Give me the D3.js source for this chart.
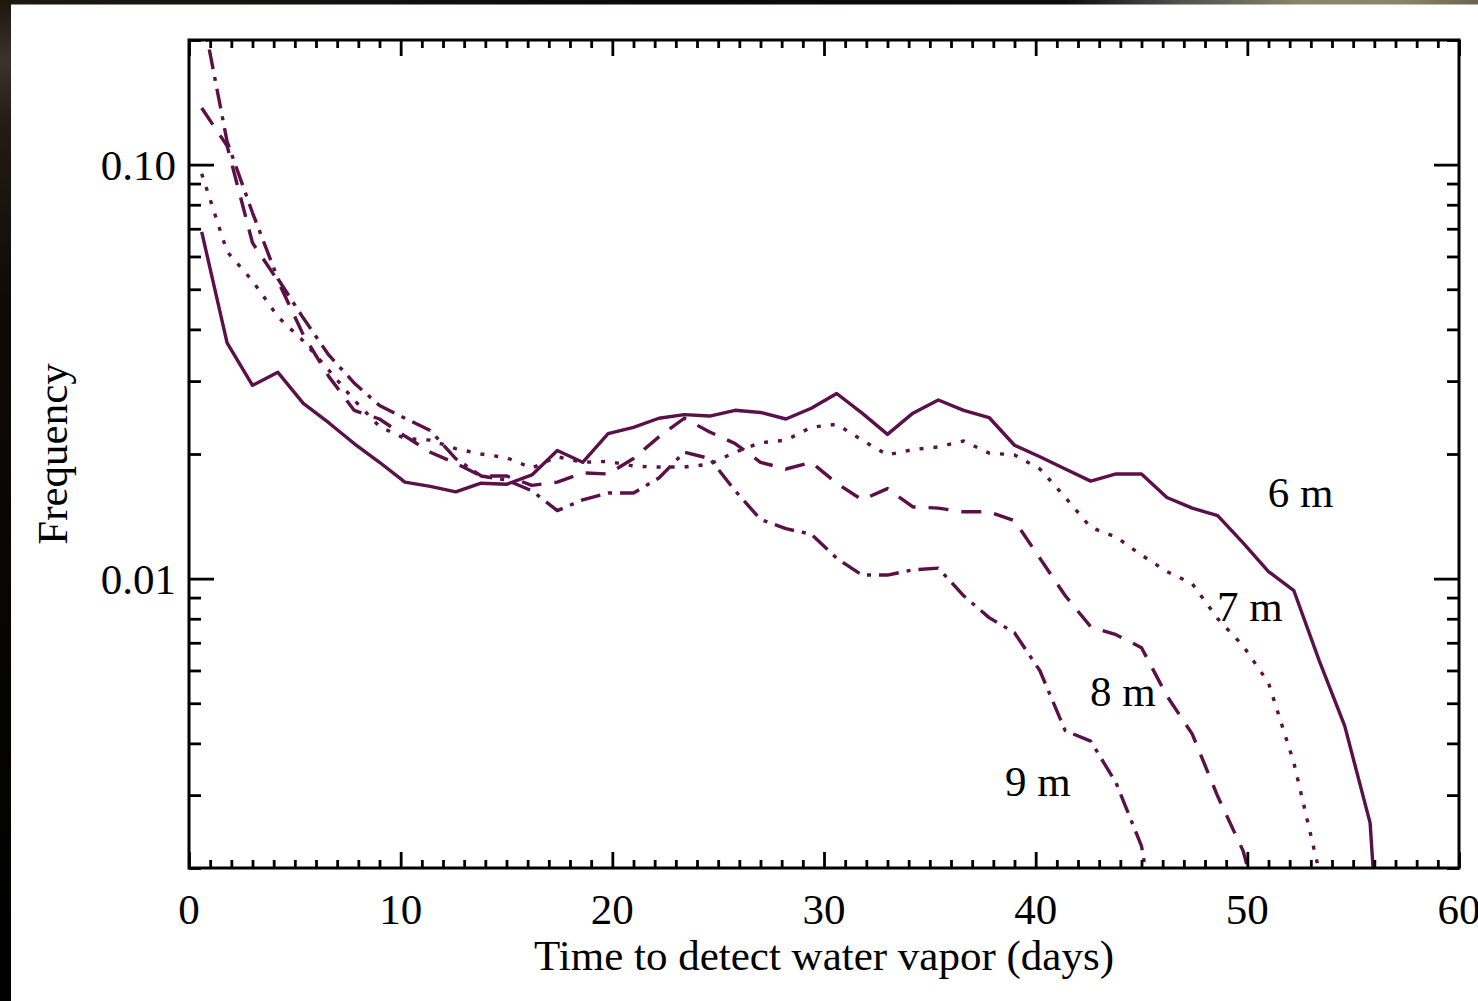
<!DOCTYPE html>
<html>
<head>
<meta charset="utf-8">
<script src="https://cdn.jsdelivr.net/npm/d3@7"></script>
<style>
  body { margin: 0; background: #fff; }
  svg { display: block; }
  text { font-family: "Liberation Serif", "Times New Roman", serif; fill: #000; }
</style>
</head>
<body>
<svg id="chart" width="1478" height="1001"></svg>
<script>
// bin centres (days) and frequency per bin
var days = [0.6, 1.8, 3.0, 4.2, 5.4, 6.6, 7.8, 9.0, 10.2, 11.4, 12.6, 13.8, 15.0, 16.2, 17.4, 18.6,
            19.8, 21.0, 22.2, 23.4, 24.6, 25.8, 27.0, 28.2, 29.4, 30.6, 31.8, 33.0, 34.2, 35.4, 36.6,
            37.8, 39.0, 40.2, 41.4, 42.6, 43.8, 45.0, 46.2, 47.4, 48.6, 49.8, 51.0, 52.2, 53.4, 54.6,
            55.8, 57.0];

var freq6m = [0.0688, 0.0371, 0.0293, 0.0315, 0.0265, 0.0238, 0.0212, 0.0191, 0.0171, 0.0167, 0.0162,
              0.0170, 0.0169, 0.0178, 0.0204, 0.0191, 0.0224, 0.0232, 0.0244, 0.0249, 0.0247, 0.0255,
              0.0252, 0.0243, 0.0258, 0.0280, 0.0251, 0.0223, 0.0251, 0.0270, 0.0255, 0.0245, 0.0210,
              0.0197, 0.0184, 0.0172, 0.0179, 0.0179, 0.0157, 0.0148, 0.0142, 0.0122, 0.0104, 0.00935,
              0.00633, 0.00441, 0.00257, 0.0003];

var freq7m = [0.0951, 0.0616, 0.0524, 0.0429, 0.0375, 0.0319, 0.0270, 0.0233, 0.0218, 0.0216, 0.0206,
              0.0200, 0.0196, 0.0185, 0.0197, 0.0191, 0.0192, 0.0187, 0.0186, 0.0186, 0.0189, 0.0202,
              0.0213, 0.0216, 0.0232, 0.0236, 0.0216, 0.0199, 0.0205, 0.0208, 0.0215, 0.0201, 0.0199,
              0.0184, 0.0157, 0.0133, 0.0126, 0.0114, 0.0104, 0.00972, 0.00800, 0.00688, 0.00560,
              0.00359, 0.00196, 0.0008];

var freq8m = [0.137, 0.111, 0.0647, 0.0524, 0.0388, 0.0308, 0.0255, 0.0243, 0.0221, 0.0202, 0.0190,
              0.0177, 0.0177, 0.0168, 0.0171, 0.0180, 0.0179, 0.0195, 0.0220, 0.0244, 0.0226, 0.0212,
              0.0191, 0.0184, 0.0191, 0.0170, 0.0155, 0.0165, 0.0149, 0.0148, 0.0145, 0.0145, 0.0138,
              0.0112, 0.00909, 0.00765, 0.00732, 0.00681, 0.00521, 0.00421, 0.00298, 0.00220, 0.0013];

var freq9m = [0.236, 0.1137, 0.0765, 0.0530, 0.0426, 0.0347, 0.0297, 0.0262, 0.0244, 0.0228, 0.0195,
              0.0177, 0.0173, 0.0163, 0.0146, 0.0155, 0.0161, 0.0161, 0.0175, 0.0202, 0.0195, 0.0163,
              0.0139, 0.0132, 0.0128, 0.0112, 0.0102, 0.0102, 0.0105, 0.0106, 0.00909, 0.00805,
              0.00740, 0.00599, 0.00429, 0.00405, 0.00321, 0.00226, 0.001];

var seriesNames = ["6 m", "7 m", "8 m", "9 m"];
var xTickValues = [0, 10, 20, 30, 40, 50, 60];
var yTickValues = [0.01, 0.1];
var yTickLabels = ["0.01", "0.10"];

var W = 1478, H = 1001;
var plotL = 189, plotR = 1459, plotT = 40, plotB = 868;
var ink = "#5b1049";

var svg = d3.select("#chart");

// dark screenshot edges
var defs = svg.append("defs");
var gTop = defs.append("linearGradient").attr("id", "topband");
[[0, "#1d1812"], [0.45, "#0b0908"], [0.72, "#0c0c0c"], [0.8, "#4e534b"], [0.88, "#8a8569"],
 [0.95, "#8e8264"], [1, "#6b6250"]].forEach(function(s) {
  gTop.append("stop").attr("offset", s[0]).attr("stop-color", s[1]);
});
var gLeft = defs.append("linearGradient").attr("id", "leftband")
  .attr("x1", 0).attr("y1", 0).attr("x2", 0).attr("y2", 1);
[[0, "#1c160f"], [0.06, "#3b332b"], [0.12, "#241c15"], [0.3, "#0d0a08"], [1, "#000"]].forEach(function(s) {
  gLeft.append("stop").attr("offset", s[0]).attr("stop-color", s[1]);
});
svg.append("rect").attr("x", 0).attr("y", 0).attr("width", W).attr("height", 4.5).attr("fill", "url(#topband)");
svg.append("rect").attr("x", 0).attr("y", 0).attr("width", 11).attr("height", H).attr("fill", "url(#leftband)");

defs.append("clipPath").attr("id", "plotclip")
  .append("rect").attr("x", plotL).attr("y", plotT).attr("width", plotR - plotL).attr("height", plotB - plotT);

var x = d3.scaleLinear().domain([0, 60]).range([plotL, plotR]);
var y = d3.scaleLog().domain([0.002, 0.2]).range([plotB, plotT]);

// lines
var line = d3.line()
  .x(function(d) { return x(d[0]); })
  .y(function(d) { return y(d[1]); });

var series = [
  { name: seriesNames[0], values: freq6m, dash: null },
  { name: seriesNames[1], values: freq7m, dash: "4,10" },
  { name: seriesNames[2], values: freq8m, dash: "20,13" },
  { name: seriesNames[3], values: freq9m, dash: "20,8,4,8" }
];

var plot = svg.append("g").attr("clip-path", "url(#plotclip)");
series.forEach(function(s) {
  var pts = s.values.map(function(v, i) { return [days[i], v]; });
  plot.append("path")
    .datum(pts)
    .attr("d", line)
    .attr("fill", "none")
    .attr("stroke", ink)
    .attr("stroke-width", 3.4)
    .attr("stroke-linejoin", "round")
    .attr("stroke-dasharray", s.dash);
});

// axes: ticks point inward on all four sides
var xMinor = d3.range(0, 61).filter(function(d) { return d % 10 !== 0; });
var yMinor = y.ticks().filter(function(d) { return yTickValues.indexOf(d) < 0; });

function styleAxis(g) {
  g.select(".domain").remove();
  g.selectAll("line").attr("stroke", "#000").attr("stroke-width", 2.8);
}

svg.append("g").attr("transform", "translate(0," + plotB + ")")
  .call(d3.axisBottom(x).tickValues(xMinor).tickSize(-8).tickFormat("")).call(styleAxis);
svg.append("g").attr("transform", "translate(0," + plotB + ")")
  .call(d3.axisBottom(x).tickValues(xTickValues).tickSize(-16).tickFormat("")).call(styleAxis);
svg.append("g").attr("transform", "translate(0," + plotT + ")")
  .call(d3.axisTop(x).tickValues(xMinor).tickSize(-8).tickFormat("")).call(styleAxis);
svg.append("g").attr("transform", "translate(0," + plotT + ")")
  .call(d3.axisTop(x).tickValues(xTickValues).tickSize(-16).tickFormat("")).call(styleAxis);

svg.append("g").attr("transform", "translate(" + plotL + ",0)")
  .call(d3.axisLeft(y).tickValues(yMinor).tickSize(-12).tickFormat("")).call(styleAxis);
svg.append("g").attr("transform", "translate(" + plotL + ",0)")
  .call(d3.axisLeft(y).tickValues(yTickValues).tickSize(-25).tickFormat("")).call(styleAxis);
svg.append("g").attr("transform", "translate(" + plotR + ",0)")
  .call(d3.axisRight(y).tickValues(yMinor).tickSize(-12).tickFormat("")).call(styleAxis);
svg.append("g").attr("transform", "translate(" + plotR + ",0)")
  .call(d3.axisRight(y).tickValues(yTickValues).tickSize(-25).tickFormat("")).call(styleAxis);

svg.append("rect")
  .attr("x", plotL).attr("y", plotT).attr("width", plotR - plotL).attr("height", plotB - plotT)
  .attr("fill", "none").attr("stroke", "#000").attr("stroke-width", 3);

// tick labels
svg.selectAll(".xlab").data(xTickValues).enter().append("text")
  .attr("x", function(d) { return x(d); })
  .attr("y", 924)
  .attr("text-anchor", "middle")
  .attr("font-size", 43)
  .text(function(d) { return d; });

svg.selectAll(".ylab").data(yTickValues).enter().append("text")
  .attr("x", plotL - 13)
  .attr("y", function(d) { return y(d) + 15; })
  .attr("text-anchor", "end")
  .attr("font-size", 43)
  .text(function(d, i) { return yTickLabels[i]; });

// titles
svg.append("text")
  .attr("x", (plotL + plotR) / 2).attr("y", 970)
  .attr("text-anchor", "middle").attr("font-size", 43)
  .text("Time to detect water vapor (days)");

svg.append("text")
  .attr("transform", "translate(67," + ((plotT + plotB) / 2) + ") rotate(-90)")
  .attr("text-anchor", "middle").attr("font-size", 43)
  .text("Frequency");

// curve labels, anchored in data units
var labelAt = [[50.97, 0.01486], [48.57, 0.00791], [42.57, 0.00493], [38.55, 0.00298]];
svg.selectAll(".slab").data(seriesNames).enter().append("text")
  .attr("x", function(d, i) { return x(labelAt[i][0]); })
  .attr("y", function(d, i) { return y(labelAt[i][1]); })
  .attr("font-size", 43)
  .text(function(d) { return d; });
</script>
</body>
</html>
